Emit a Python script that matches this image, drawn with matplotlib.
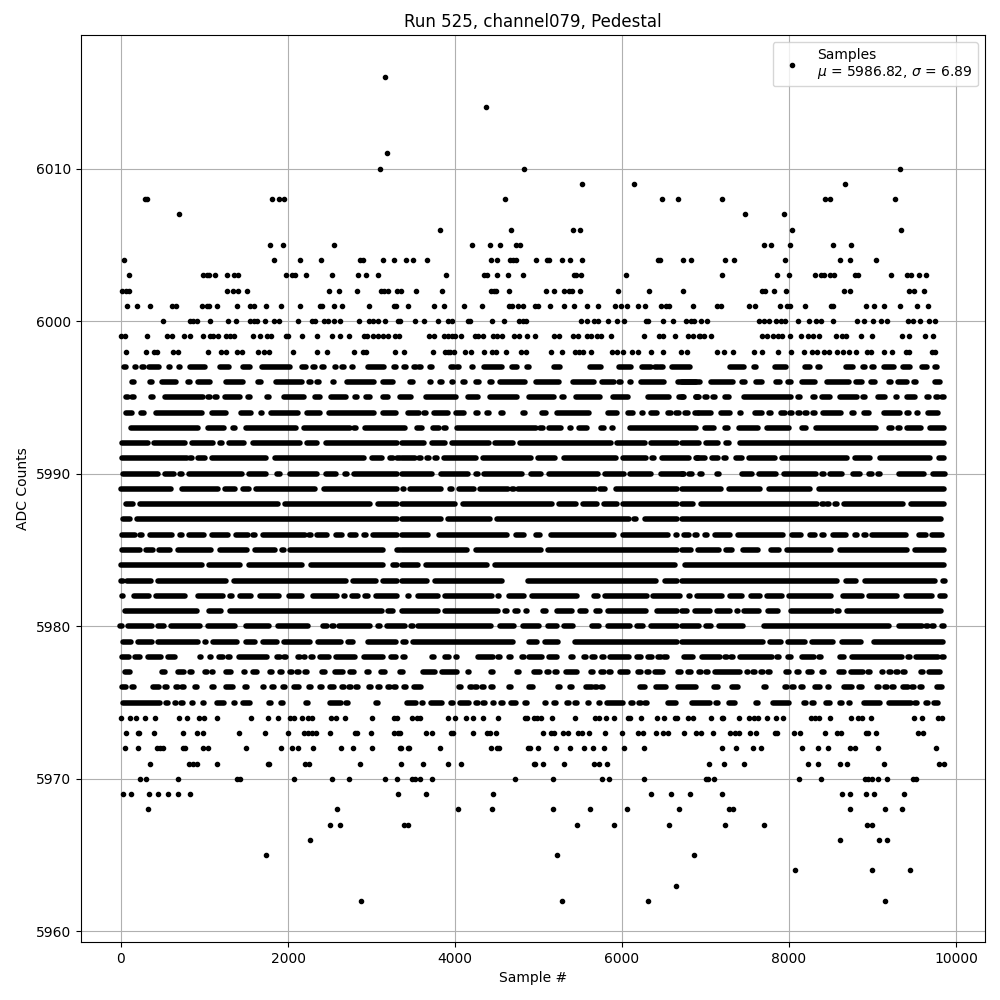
import matplotlib
matplotlib.use("Agg")
import matplotlib.pyplot as plt

# rows that can still be told apart: sample numbers
pts_6016 = [3164]
pts_6014 = [4372]
pts_6011 = [3188]
pts_6010 = [3104, 4828, 9332]
pts_6009 = [5524, 6148, 8672]
pts_6008 = [288, 312, 1808, 1892, 1952, 4600, 6484, 6676, 7196, 8428, 8492, 9272]
pts_6007 = [692, 7472, 7940]
pts_6006 = [3820, 4672, 5416, 5500, 8036, 9344]
pts_6005 = [1784, 1940, 2552, 4204, 4420, 4540, 4732, 4780, 7700, 7784, 8012, 8528, 8744]
pts_6004 = [32, 1832, 2144, 2396, 2864, 2900, 3140, 3272, 3412, 3496, 3664, 4432, 4504, 4660, 4696, 4732,
            4972, 5100, 5124, 5284, 5380, 5524, 6436, 6460, 6736, 6832, 7232, 7340, 7952, 8612, 8732, 9044]
pts_6003 = [92, 980, 1028, 1052, 1124, 1268, 1352, 1400, 1976, 2048, 2084, 2216, 2528, 2840, 2936, 3080, 3892,
            4348, 4384, 4504, 4636, 4816, 5428, 5452, 5512, 6052, 7196, 7856, 8000, 8312, 8384, 8420, 8492, 8540,
            8792, 8828, 9224, 9416, 9464, 9560, 9644]
pts_6002 = [8, 60, 92, 1268, 1340, 1400, 1508, 2492, 2612, 2828, 3116, 3152, 3200, 3308, 3356, 3532, 3844, 4432,
            4468, 4492, 4648, 5092, 5188, 5308, 5368, 5404, 5500, 5956, 6328, 6736, 7676, 7712, 7820, 7964, 8660,
            8732, 9440, 9500, 9620]
pts_6001 = [68, 188, 344, 608, 656, 968, 1028, 1052, 1148, 1388, 1544, 1592, 1736, 1916, 2144, 2384, 2408, 2552,
            2648, 2972, 3272, 3296, 3440, 3748, 3868, 4108, 4324, 4648, 4684, 4756, 4816, 4960, 4996, 5140, 5308,
            5428, 5584, 5716, 5920, 5992, 6064, 6196, 6280, 6472, 6532, 6568, 6856, 7136, 7184, 7520, 7592, 7892,
            7976, 8016, 8192, 8504, 8528, 8924, 9020, 9140, 9332, 9536, 9668]
pts_6000 = [500, 824, 860, 908, 1064, 1280, 1376, 1544, 1592, 1628, 1724, 1832, 1892, 2120, 2288, 2324, 2432, 2480,
            2552, 2624, 2852, 2972, 3020, 3080, 3164, 3320, 3336, 3520, 3628, 3796, 3916, 3964, 4156, 4180, 4444,
            4588, 4768, 4816, 4852, 5512, 5584, 5668, 5716, 5836, 5944, 6028, 6292, 6316, 6496, 6616, 6772, 6832,
            6868, 6944, 7016, 7640, 7700, 7760, 7844, 7904, 7952, 8108, 8240, 8324, 8384, 8528, 8816, 8900, 9008,
            9104, 9176, 9428, 9488, 9572, 9680, 9752]
pts_5999 = [0, 44, 308, 548, 608, 752, 824, 980, 1064, 1100, 1160, 1256, 1304, 1352, 1580, 1664, 1748, 1796, 1976,
            2000, 2168, 2348, 2528, 2624, 2732, 2912, 2948, 3020, 3080, 3140, 3200, 3284, 3332, 3688, 3748, 3868,
            3916, 3964, 4000, 4072, 4240, 4276, 4336, 4456, 4504, 4564, 4708, 4768, 4864, 4960, 5188, 5248, 5416,
            5476, 5584, 5632, 5704, 5752, 5872, 6268, 6448, 6496, 6640, 6796, 6856, 6916, 6932, 6980, 7064, 7676,
            7736, 7808, 7868, 7916, 8012, 8144, 8228, 8288, 8360, 8564, 8636, 8684, 8864, 8996, 9356, 9440, 9632,
            9728]
pts_5998 = [56, 296, 392, 428, 620, 680, 1040, 1196, 1256, 1388, 1448, 1640, 1712, 1772, 2060, 2348, 2468, 2792,
            2900, 2936, 3284, 3392, 3736, 3880, 3916, 3940, 3988, 4120, 4192, 4348, 4444, 4492, 4612, 4792, 4852,
            5152, 5284, 5440, 5488, 5536, 5632, 5884, 5944, 6016, 6124, 6196, 6352, 6496, 6712, 6784, 7136, 7220,
            7328, 7580, 7676, 7868, 8024, 8180, 8276, 8336, 8420, 8480, 8576, 8648, 8720, 8804, 8936, 8984, 9140,
            9236, 9404, 9440, 9716, 9752]
pts_5974 = [0, 104, 176, 292, 404, 692, 788, 932, 992, 1148, 1556, 1760, 1880, 2024, 2072, 2168, 2240, 2288, 2516,
            2580, 2684, 3008, 3268, 3308, 3484, 3544, 3580, 3916, 4000, 4132, 4216, 4336, 4516, 4840, 4864, 4948,
            4984, 5032, 5164, 5440, 5680, 5728, 5812, 5908, 6076, 6100, 6232, 6424, 6508, 6640, 6664, 6796, 6856,
            7064, 7196, 7208, 7400, 7520, 7580, 7628, 7736, 7848, 7928, 8264, 8312, 8360, 8492, 8744, 8828, 8876,
            8984, 9500, 9596, 9788, 9836]
pts_5973 = [56, 200, 212, 392, 740, 908, 980, 1412, 1724, 2000, 2192, 2240, 2288, 2336, 2504, 2804, 2828, 2996,
            3272, 3320, 3336, 3652, 3724, 3952, 3976, 4216, 4384, 4420, 4492, 5056, 5152, 5188, 5296, 5356, 5476,
            5524, 5608, 5800, 6004, 6196, 6256, 6412, 6496, 6556, 6748, 6892, 6944, 7088, 7292, 7352, 7400, 7532,
            7604, 7832, 7856, 8060, 8132, 8432, 8576, 8624, 8924, 8948, 9044, 9548, 9608]
pts_5972 = [44, 200, 428, 464, 500, 740, 764, 980, 1040, 1496, 1916, 2048, 2120, 2300, 2636, 2780, 3008, 3344, 3440,
            3352, 3448, 3820, 4432, 4504, 4528, 4876, 4900, 4996, 5212, 5380, 5548, 5656, 5788, 6028, 6268, 7196,
            7364, 7568, 7664, 8156, 8348, 8468, 8732, 8792, 9068, 9764]
pts_5971 = [344, 812, 860, 908, 1148, 1760, 1772, 2204, 2252, 2864, 3352, 3616, 3916, 4072, 4948, 4960, 5056, 5308,
            5668, 5728, 5824, 7040, 7220, 7460, 8228, 8348, 8612, 8696, 9140, 9800, 9860]
pts_5970 = [224, 296, 680, 1388, 1424, 2072, 2528, 2732, 3164, 3308, 3484, 3520, 3580, 3724, 4720, 5176, 5764, 5848,
            6268, 7004, 7028, 7100, 8120, 8384, 8912, 8948, 8996, 9068, 9176, 9488, 9524]
pts_5969 = [20, 116, 332, 440, 560, 680, 824, 3320, 3652, 4456, 6352, 6592, 6820, 7196, 8636, 8732, 8924, 9020, 9380]
pts_5968 = [320, 2588, 4036, 4444, 5176, 5620, 6064, 6688, 7280, 7328, 8732, 9152, 9356]
pts_5967 = [2504, 2624, 3392, 3440, 5464, 5908, 6568, 7232, 7700, 8936, 8996]
pts_5966 = [2264, 8612, 9080, 9176]
pts_5965 = [1736, 5224, 6864]
pts_5964 = [8072, 8996, 9452]
pts_5963 = [6652]
pts_5962 = [2876, 5284, 6316, 9152]

sparse_levels = [6016, 6014, 6011, 6010, 6009, 6008, 6007, 6006, 6005, 6004, 6003, 6002, 6001, 6000, 5999, 5998,
                 5974, 5973, 5972, 5971, 5970, 5969, 5968, 5967, 5966, 5965, 5964, 5963, 5962]
sparse_rows = [pts_6016, pts_6014, pts_6011, pts_6010, pts_6009, pts_6008, pts_6007, pts_6006, pts_6005, pts_6004,
               pts_6003, pts_6002, pts_6001, pts_6000, pts_5999, pts_5998, pts_5974, pts_5973, pts_5972, pts_5971,
               pts_5970, pts_5969, pts_5968, pts_5967, pts_5966, pts_5965, pts_5964, pts_5963, pts_5962]

# crowded rows: the dots merge in the picture, so these are (first, last) edges of each solid stretch
runs_5997 = [(8, 92), (140, 212), (240, 280), (308, 488), (540, 620), (660, 740), (788, 1044), (1148, 1328),
             (1424, 1580), (1652, 2060), (2132, 2252), (2290, 2334), (2380, 2460), (2528, 2612), (2640, 2680),
             (2740, 2804), (2924, 3188), (3240, 3332), (3380, 3424), (3496, 3544), (3564, 3604), (3692, 3732),
             (3808, 3880), (3952, 3988), (4016, 4056), (4168, 4252), (4312, 4600), (4648, 4780), (4852, 4900),
             (5152, 5296), (5380, 5452), (5480, 5544), (5584, 5776), (5932, 6136), (6208, 6376), (6392, 6432),
             (6452, 6492), (6568, 6844), (7016, 7088), (7256, 7496), (7544, 7640), (7676, 7748), (7796, 8000),
             (8048, 8120), (8156, 8288), (8340, 8380), (8504, 8576), (8648, 8804), (8880, 8920), (8988, 9028),
             (9104, 9296), (9332, 9476), (9560, 9680), (9744, 9784)]
runs_5996 = [(128, 164), (212, 272), (320, 400), (460, 692), (792, 832), (892, 1100), (1220, 1492), (1604, 1712),
             (1820, 2204), (2244, 2284), (2340, 2380), (2504, 2588), (2672, 3060), (3104, 3292), (3432, 3528),
             (3676, 3736), (3784, 3880), (3928, 4012), (4088, 4128), (4216, 4324), (4412, 4452), (4504, 4876),
             (4936, 5284), (5380, 5696), (5728, 5936), (5960, 6000), (6064, 6136), (6196, 6536), (6632, 6916),
             (6688, 6968), (7028, 7368), (7408, 7508), (7568, 7712), (7808, 7928), (7952, 8060), (8120, 8348),
             (8420, 8748), (8768, 8912), (8948, 9068), (9192, 9232), (9272, 9440), (9492, 9532), (9716, 9836)]
runs_5995 = [(48, 88), (120, 160), (348, 388), (488, 1020), (1032, 1072), (1116, 1156), (1208, 1460), (1512, 1552),
             (1740, 1780), (1916, 2220), (2288, 2420), (2480, 2732), (2796, 2836), (2900, 3020), (3104, 3236),
             (3308, 3508), (3616, 4048), (4120, 4312), (4384, 4776), (4852, 5216), (5276, 5316), (5416, 5764),
             (5860, 6100), (6280, 6592), (6652, 6772), (6884, 6924), (6688, 6760), (6876, 6916), (6956, 7052),
             (7080, 7120), (7196, 7316), (7424, 8060), (8100, 8140), (8280, 8320), (8360, 8528), (8576, 8848),
             (8880, 8920), (9032, 9188), (9248, 9332), (9380, 9536), (9620, 9704), (9756, 9796), (9828, 9868)]
runs_5994 = [(32, 164), (212, 308), (392, 1000), (1052, 1292), (1400, 1592), (1640, 1724), (1760, 2156), (2192, 2420),
             (2460, 3060), (3104, 3332), (3400, 3604), (3620, 3660), (3712, 3952), (3976, 4144), (4216, 4312),
             (4348, 4444), (4544, 4584), (4708, 4780), (4808, 4848), (5008, 5128), (5188, 5632), (5704, 5764),
             (5800, 5968), (6040, 6160), (6220, 6268), (6316, 6448), (6548, 6588), (6644, 6684), (6752, 6792),
             (6872, 6912), (6884, 7100), (7148, 7328), (7376, 7460), (7556, 7712), (7752, 7792), (7868, 7988),
             (8004, 8044), (8100, 8140), (8184, 8224), (8280, 8320), (8372, 8660), (8748, 8788), (8864, 8996),
             (9104, 9368), (9408, 9448), (9500, 9572), (9632, 9812)]
runs_5993 = [(92, 960), (1004, 1268), (1304, 1400), (1460, 2132), (2156, 2780), (2784, 2824), (2888, 3440),
             (3508, 3640), (3700, 3844), (3860, 3900), (3988, 5008), (5020, 5056), (5092, 5308),
             (5356, 5416), (5452, 5608), (5716, 5812), (5848, 5920), (6064, 6916), (6956, 7136),
             (7196, 7304), (7364, 7664), (7700, 8036), (8120, 8240), (8288, 9080), (9164, 9272), (9300, 9340),
             (9380, 9608), (9656, 9888)]
runs_5992 = [(-20, 360), (360, 800), (812, 1140), (1148, 1240), (1256, 1504), (1552, 2180), (2192, 2380), (2420, 3340),
             (3336, 3656), (3688, 3916), (3936, 4436), (4448, 4732), (4744, 5896), (5908, 6304), (6316, 6690),
             (6688, 6956), (6968, 7184), (7208, 7316), (7380, 9888)]
runs_5991 = [(-20, 820), (820, 860), (884, 1040), (1052, 1772), (1812, 2940), (2972, 3160), (3188, 3292), (3308, 3340),
             (3336, 3556), (3564, 3604), (3656, 3696), (3752, 3792), (3832, 4288), (4300, 4944), (4960, 5236),
             (5272, 5956), (5984, 6316), (6328, 6412), (6448, 6840), (6872, 6936), (6848, 7028), (7040, 7184),
             (7212, 7252), (7328, 7472), (7484, 7868), (7888, 8732), (8756, 9008), (9056, 9716), (9764, 9888)]
runs_5990 = [(-8, 480), (488, 668), (696, 736), (776, 1484), (1496, 1772), (1832, 1940), (1988, 2384), (2420, 2612),
             (2676, 2716), (2756, 3340), (3336, 3760), (3796, 4192), (4244, 4284), (4312, 4840), (4876, 5068),
             (5092, 5740), (5764, 6052), (6064, 6376), (6436, 6772), (6800, 6840), (6688, 6760),
             (6896, 6992), (7128, 7168), (7400, 7592), (7604, 7880), (7904, 8360), (8388, 8428),
             (8456, 8672), (8732, 8888), (8924, 9032), (9060, 9100), (9284, 9644), (9692, 9896)]
runs_5989 = [(-32, 632), (692, 1196), (1208, 1400), (1424, 1560), (1580, 2360), (2396, 3340), (3344, 3420), (3424, 3868),
             (3932, 3972), (4012, 4264), (4264, 4672), (4676, 4716), (4720, 5704), (5704, 5824), (5896, 6690),
             (6688, 7220), (7244, 7688), (7724, 8288), (8324, 9884)]
runs_5988 = [(32, 180), (200, 1908), (1932, 3020), (3044, 3340), (3336, 4036), (4060, 5200), (5212, 5476), (5500, 5728),
             (5752, 5968), (5980, 6690), (6688, 6888), (6908, 8368), (8388, 8428), (8448, 8488), (8544, 8584),
             (8624, 9400), (9428, 9884)]
runs_5987 = [(-8, 140), (164, 3340), (3336, 3868), (3880, 4448), (4468, 6112), (6140, 6180), (6244, 6690), (6688, 9848)]
runs_5986 = [(-20, 196), (216, 256), (320, 644), (696, 736), (776, 1028), (1052, 1316), (1340, 1556), (1572, 1612),
             (1664, 2240), (2244, 2284), (2312, 2504), (2540, 2684), (2708, 2852), (2904, 2944), (2984, 3340),
             (3336, 3712), (3772, 4660), (4696, 4864), (4936, 5056), (5116, 5932), (5980, 6580), (6616, 6688),
             (6712, 6836), (6864, 6904), (6956, 7052), (7076, 7328), (7352, 7964),
             (8000, 8180), (8216, 8348), (8388, 8428), (8492, 8720), (8784, 8824), (8892, 8932), (8960, 9428),
             (9524, 9668), (9680, 9860)]
runs_5985 = [(-20, 260), (272, 416), (428, 620), (644, 1112), (1156, 1544), (1568, 1880), (1920, 1960), (1988, 3176),
             (3308, 3340), (3336, 4180), (4216, 5068), (5080, 6690), (6688, 6860), (6872, 7196), (7208, 7352),
             (7412, 7664), (7748, 7916), (7940, 8540), (8576, 9448), (9476, 9884)]
runs_5984 = [(-32, 1004), (1020, 1460), (1496, 2200), (2240, 3172), (3220, 3340), (3336, 3584), (3616, 4420),
             (4444, 6664), (6724, 9884)]
runs_5983 = [(-12, 28), (44, 392), (416, 1292), (1316, 2732), (2744, 3092), (3104, 3340), (3336, 3700), (3724, 4600),
             (4624, 4696), (4732, 4804), (4840, 6436), (6484, 6690), (6688, 8612), (8648, 8840), (8876, 9776),
             (9812, 9896)]
runs_5982 = [(-20, 52), (128, 368), (392, 800), (884, 1256), (1268, 1364), (1388, 1592), (1628, 1928), (1976, 2204),
             (2264, 2624), (2648, 2708), (2732, 2876), (2888, 2996), (3020, 3340), (3336, 3400), (3408, 3484),
             (3520, 3832), (3844, 4480), (4492, 4552), (4612, 4864), (4888, 5488), (5500, 5568), (5632, 5740),
             (5764, 6328), (6340, 6724), (6776, 6836), (6860, 7232), (7256, 7472), (7508, 7688),
             (7700, 7952), (7964, 8540), (8612, 8912), (8924, 9332), (9368, 9740), (9776, 9896)]
runs_5981 = [(20, 944), (1016, 1232), (1268, 3164), (3164, 3296), (3336, 3832), (3844, 4552), (4564, 4660),
             (4684, 4792), (4828, 4888), (5020, 5128), (5188, 5440), (5464, 5600), (5656, 5764), (5800, 6316),
             (6388, 6690), (6688, 6808), (6836, 7088), (7100, 7328), (7352, 7408), (7424, 7676), (7712, 7904),
             (7988, 8552), (8568, 8608), (8660, 9848)]
runs_5980 = [(-20, 20), (52, 404), (416, 548), (560, 980), (1004, 1400), (1460, 1808), (1848, 2276), (2384, 2504),
             (2520, 2560), (2580, 3020), (3044, 3140), (3152, 3440), (3464, 3504), (3528, 4464),
             (4500, 4744), (4780, 5044), (5080, 5260), (5272, 5452), (5608, 5752), (5800, 6124), (6148, 6280),
             (6316, 6690), (6688, 6952), (6968, 7100), (7128, 7484), (7664, 9236), (9284, 9620), (9636, 9676),
             (9708, 9748), (9800, 9884)]
runs_5979 = [(-12, 152), (176, 404), (416, 956), (968, 1052), (1064, 1424), (1460, 1640), (1664, 1904), (1916, 2300),
             (2324, 2672), (2684, 2816), (2840, 2912), (2924, 3332), (3348, 3452), (3460, 4732),
             (4852, 5020), (5044, 5272), (5404, 6690), (6688, 7720), (7736, 7940), (7952, 8228), (8240, 8564),
             (8600, 8900), (8984, 9872)]
runs_5978 = [(-20, 128), (140, 260), (296, 512), (524, 684), (692, 764), (788, 860), (908, 992), (1028, 1112),
             (1136, 1256), (1272, 1312), (1376, 1784), (1832, 1932), (1948, 1988), (2112, 2152), (2168, 2228),
             (2240, 2336), (2348, 2528), (2540, 2840), (2876, 3176), (3200, 3332), (3344, 3440),
             (3716, 3756), (3844, 3964), (3976, 4060), (4156, 4228), (4240, 4492), (4508, 4548), (4640, 4680),
             (4796, 4836), (4852, 5080), (5092, 5260), (5384, 5424), (5540, 5580), (5608, 5704), (5756, 5796),
             (5824, 6112), (6148, 6256), (6280, 6388), (6428, 6468), (6500, 6540), (6712, 6880),
             (6920, 7208), (7224, 7264), (7296, 7336), (7376, 7832), (7848, 7888), (7952, 8060), (8120, 8336),
             (8352, 8392), (8456, 8528), (8576, 8688), (8720, 9392), (9420, 9460), (9488, 9812), (9828, 9868)]
runs_5977 = [(20, 140), (460, 560), (644, 788), (816, 856), (996, 1036), (1060, 1132), (1220, 1352), (1436, 1516),
             (1544, 1664), (1776, 1816), (1896, 1936), (1988, 2084), (2100, 2140), (2196, 2236), (2372, 2480),
             (2528, 2692), (2708, 2828), (2940, 2980), (3080, 3200), (3308, 3416), (3588, 3796),
             (3808, 4056), (4128, 4200), (4424, 4464), (4736, 4776), (4912, 5056), (5068, 5164), (5192, 5232),
             (5296, 5488), (5624, 5664), (5716, 5812), (5840, 5880), (5944, 6100), (6160, 6256), (6296, 6336),
             (6364, 6520), (6668, 6708), (6788, 6828), (6912, 6952), (6996, 7036), (7076, 7448), (7460, 7544),
             (7560, 7600), (7656, 7696), (7740, 7780), (7928, 8036), (8088, 8128), (8192, 8312), (8384, 8424),
             (8564, 8696), (8708, 8924), (8940, 8980), (9080, 9164), (9192, 9232), (9276, 9316), (9360, 9400),
             (9576, 9616), (9644, 9836)]
runs_5976 = [(-20, 92), (128, 168), (356, 488), (516, 556), (648, 688), (720, 760), (876, 916), (1052, 1148),
             (1220, 1376), (1476, 1516), (1664, 1740), (1800, 1840), (1932, 1972), (2036, 2168), (2244, 2284),
             (2376, 2416), (2468, 2588), (2640, 2680), (2724, 2764), (2808, 2848), (2964, 3004), (3072, 3112),
             (3192, 3232), (3264, 3304), (3384, 3424), (3472, 3628), (4040, 4080), (4172, 4212),
             (4232, 4272), (4316, 4356), (4424, 4464), (4640, 4680), (4852, 4972), (5228, 5268), (5372, 5412),
             (5536, 5668), (5672, 5712), (5744, 5784), (6184, 6304), (6376, 6564), (6640, 6920),
             (7064, 7184), (7280, 7424), (7692, 7732), (7944, 7984), (8028, 8068), (8136, 8176), (8276, 8408),
             (8432, 8516), (8624, 8792), (8808, 8908), (9048, 9088), (9144, 9184), (9228, 9268), (9332, 9452),
             (9468, 9508), (9564, 9604), (9644, 9708), (9740, 9868)]
runs_5975 = [(-8, 500), (528, 568), (608, 692), (708, 748), (812, 896), (944, 1028), (1112, 1268), (1328, 1388),
             (1424, 1580), (1592, 1660), (1764, 1804), (1880, 1968), (2208, 2248), (2468, 2672), (2688, 2728),
             (2848, 2920), (3048, 3088), (3292, 3368), (3396, 3568), (3576, 3648), (3676, 3880),
             (3944, 3984), (4024, 4204), (4244, 4284), (4328, 4368), (4420, 4504), (4544, 4584), (4636, 4768),
             (4804, 4896), (5056, 5116), (5180, 5220), (5304, 5404), (5432, 5472), (5560, 5632), (5692, 5764),
             (5788, 6040), (6104, 6144), (6200, 6240), (6268, 6308), (6520, 6680), (6808, 7088),
             (7116, 7156), (7244, 7388), (7596, 7636), (7772, 8032), (8144, 8240), (8268, 8308), (8408, 8528),
             (8604, 8644), (8684, 8768), (8864, 9128), (9164, 9488), (9500, 9540), (9608, 9692), (9704, 9812)]

dense_levels = [5997, 5996, 5995, 5994, 5993, 5992, 5991, 5990, 5989, 5988, 5987, 5986, 5985, 5984, 5983, 5982, 5981,
                5980, 5979, 5978, 5977, 5976, 5975]
dense_rows = [runs_5997, runs_5996, runs_5995, runs_5994, runs_5993, runs_5992, runs_5991, runs_5990, runs_5989,
              runs_5988, runs_5987, runs_5986, runs_5985, runs_5984, runs_5983, runs_5982, runs_5981, runs_5980,
              runs_5979, runs_5978, runs_5977, runs_5976, runs_5975]

mean_adc = 5986.82
std_adc = 6.89

fig, ax = plt.subplots(figsize=(10, 10))

# dot radius in samples, so a run's round ends stop at the edges that were read
cap = 33

xs = []
ys = []
for level, row in zip(sparse_levels, sparse_rows):
    for x in row:
        xs.append(x)
        ys.append(level)
ax.plot(xs, ys, "k.", label=f"Samples\n$\\mu$ = {mean_adc:.2f}, $\\sigma$ = {std_adc:.2f}")

for level, row in zip(dense_levels, dense_rows):
    for start, end in row:
        ax.hlines(level, start + cap, end - cap, colors="k", linewidth=4, capstyle="round", zorder=2)

ax.set_xlim(-479, 10347)
ax.set_ylim(5959.31, 6018.75)
ax.set_title("Run 525, channel079, Pedestal")
ax.set_xlabel("Sample #")
ax.set_ylabel("ADC Counts")
ax.grid(True)
ax.legend(loc="upper right")
fig.subplots_adjust(left=0.081, right=0.985, top=0.965, bottom=0.058)
fig.savefig("out.png", dpi=100)
